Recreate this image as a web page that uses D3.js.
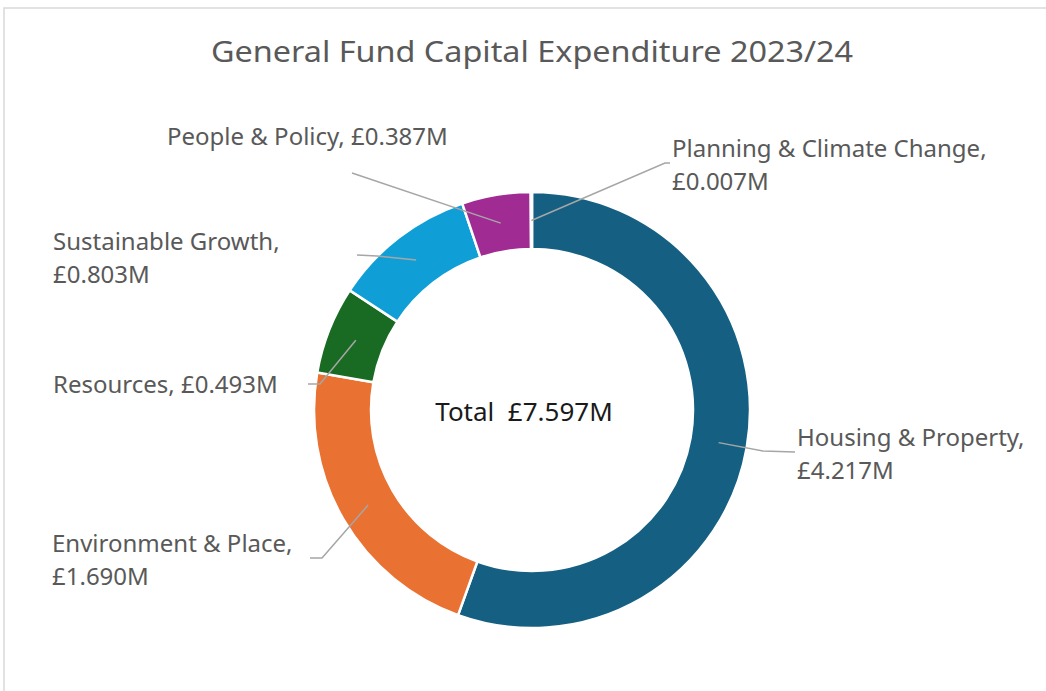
<!DOCTYPE html>
<html>
<head>
<meta charset="utf-8">
<script src="https://cdn.jsdelivr.net/npm/d3@7"></script>
<style>
  body { margin: 0; background: #fff; }
  svg text { font-family: "Noto Sans", "Open Sans", sans-serif; }
</style>
</head>
<body>
<div id="chart"></div>
<script>
// chart data
var categories = ["Housing & Property", "Environment & Place", "Resources",
                  "Sustainable Growth", "People & Policy", "Planning & Climate Change"];
var values = [4.217, 1.690, 0.493, 0.803, 0.387, 0.007];
var colours = ["#156082", "#E97132", "#196B24", "#0F9ED5", "#A02B93", "#4EA72E"];
var titleText = "General Fund Capital Expenditure 2023/24";
var totalText = "Total  £7.597M";

var width = 1046, height = 691;
var cx = 532, cy = 410, outerR = 218, innerR = 161;

// where each label sits (elbow + end of leader, text anchor, one or two lines)
var labelLayout = [
  {elbow: [763, 451], end: [795, 452], x: 797, y: 446, lines: 2},
  {elbow: [322, 558], end: [310, 558], x: 52,  y: 552, lines: 2},
  {elbow: [320, 384], end: [308, 384], x: 53,  y: 393, lines: 1},
  {elbow: [377, 256], end: [357, 255], x: 53,  y: 250, lines: 2},
  {elbow: [352, 173], end: [352, 173], x: 167, y: 145, lines: 1},
  {elbow: [665, 163], end: [670, 163], x: 672, y: 157, lines: 2}
];

var data = categories.map(function(c, i) { return {name: c, value: values[i], colour: colours[i]}; });

var svg = d3.select("#chart").append("svg")
    .attr("width", width)
    .attr("height", height);

// frame (only top/left edge visible)
svg.append("rect")
    .attr("x", 4).attr("y", 8)
    .attr("width", width + 20).attr("height", height + 20)
    .attr("fill", "#fff")
    .attr("stroke", "#d9d9d9")
    .attr("stroke-width", 1.5);

svg.append("text")
    .attr("x", cx).attr("y", 62)
    .attr("text-anchor", "middle")
    .attr("fill", "#595959")
    .style("font-size", "29px")
    .attr("textLength", 642)
    .attr("lengthAdjust", "spacingAndGlyphs")
    .text(titleText);

var pie = d3.pie().sort(null).value(function(d) { return d.value; });
var arc = d3.arc().innerRadius(innerR).outerRadius(outerR);
var midArc = d3.arc().innerRadius((innerR + outerR) / 2).outerRadius((innerR + outerR) / 2);

var g = svg.append("g").attr("transform", "translate(" + cx + "," + cy + ")");
var arcs = pie(data);

g.selectAll("path.slice")
    .data(arcs)
  .enter().append("path")
    .attr("class", "slice")
    .attr("d", arc)
    .attr("fill", function(d) { return d.data.colour; })
    .attr("stroke", "#fff")
    .attr("stroke-width", 2.5);

// leader lines
var line = d3.line();
svg.selectAll("path.leader")
    .data(arcs)
  .enter().append("path")
    .attr("class", "leader")
    .attr("fill", "none")
    .attr("stroke", "#a6a6a6")
    .attr("stroke-width", 1.5)
    .attr("d", function(d, i) {
      var c = midArc.centroid(d);
      var L = labelLayout[i];
      return line([[cx + c[0], cy + c[1]], L.elbow, L.end]);
    });

// labels
var labels = svg.selectAll("text.label")
    .data(arcs)
  .enter().append("text")
    .attr("class", "label")
    .attr("fill", "#595959")
    .style("font-size", "24px")
    .attr("x", function(d, i) { return labelLayout[i].x; })
    .attr("y", function(d, i) { return labelLayout[i].y; });

labels.each(function(d, i) {
  var t = d3.select(this), L = labelLayout[i];
  var amount = "£" + d.data.value.toFixed(3) + "M";
  if (L.lines === 1) {
    t.text(d.data.name + ", " + amount);
  } else {
    t.append("tspan").attr("x", L.x).text(d.data.name + ",");
    t.append("tspan").attr("x", L.x).attr("dy", 33).text(amount);
  }
});

svg.append("text")
    .attr("x", 524).attr("y", 421)
    .attr("text-anchor", "middle")
    .attr("fill", "#1a1a1a")
    .style("font-size", "26px")
    .style("white-space", "pre")
    .text(totalText);
</script>
</body>
</html>
